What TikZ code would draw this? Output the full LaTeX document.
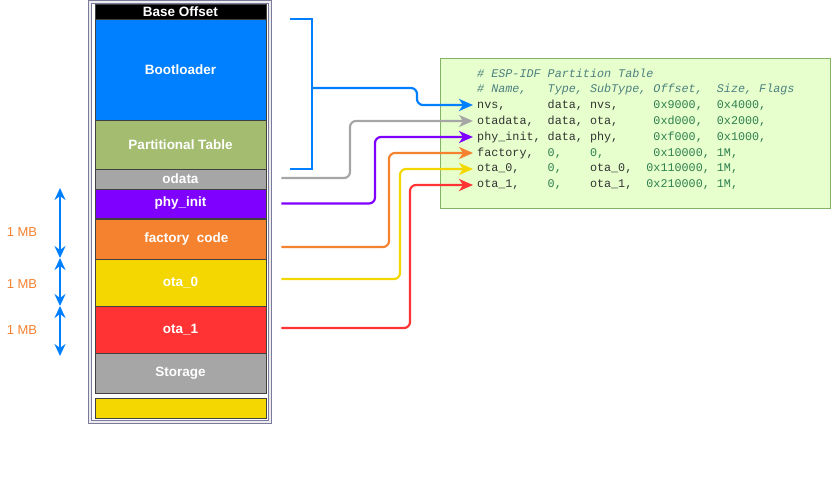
\documentclass[tikz,border=0pt]{standalone}
\usepackage{fontspec}
\setmainfont{Liberation Sans}
\setmonofont{Liberation Mono}
\usepackage{tikz}
\usetikzlibrary{arrows.meta,positioning}

\definecolor{bootc}{HTML}{007FFF}
\definecolor{ptabc}{HTML}{A3BC70}
\definecolor{greyc}{HTML}{A6A6A6}
\definecolor{phyc}{HTML}{7F00FF}
\definecolor{factc}{HTML}{F5822F}
\definecolor{otaac}{HTML}{F4D700}
\definecolor{otabc}{HTML}{FF3333}
\definecolor{tabfill}{HTML}{E6FFCC}
\definecolor{tabline}{HTML}{82B366}
\definecolor{cmtc}{HTML}{4D8080}
\definecolor{namec}{HTML}{333333}
\definecolor{numc}{HTML}{2F7F4F}
\definecolor{framec}{HTML}{7A7A9A}

\newcommand{\ptcmt}[1]{\textcolor{cmtc}{\itshape #1}}
\newcommand{\ptname}[1]{\textcolor{namec}{#1}}
\newcommand{\ptnum}[1]{\textcolor{numc}{#1}}

\begin{document}
\begin{tikzpicture}[x=1pt, y=-1pt,
    blk/.style={draw=black!75, line width=0.7pt, minimum width=171pt, inner sep=0pt,
      text=white, font=\fontsize{13.5}{15}\selectfont\bfseries},
    row/.style={anchor=west, inner xsep=4pt, inner ysep=0pt,
      font=\ttfamily\fontsize{11.75}{14}\selectfont},
    conn/.style={line width=2.2pt, rounded corners=6pt, -{Stealth[length=14pt,width=12pt,inset=4pt]}},
    size/.style={line width=1.8pt, bootc, {Stealth[length=12pt,width=11pt,inset=4pt]}-{Stealth[length=12pt,width=11pt,inset=4pt]}},
    mb/.style={text=factc, font=\fontsize{13}{15}\selectfont}]
        \useasboundingbox (0,0) rectangle (831,482);

        % flash frame (left)
        \draw[framec, line width=1.2pt, double=framec!15, double distance=1.6pt] (90,2) rectangle (270,422);

        % partitions
        \node[blk, fill=black, minimum height=15pt] (base) at (180.5,11.5) {Base Offset};
        \node[blk, fill=bootc, minimum height=101pt] (boot) at (180.5,69.5) {Bootloader};
        \node[blk, fill=ptabc, minimum height=49pt, text=white] (ptab) at (180.5,144.5) {Partitional Table};
        \node[blk, fill=greyc, minimum height=20pt] (odata) at (180.5,179) {odata};
        \node[blk, fill=phyc, minimum height=29pt] (phy) at (180.5,203.5) {phy\_init};
        \node[blk, fill=factc, minimum height=40pt] (fact) at (180.5,239) {\hspace*{12pt}factory\ \ code};
        \node[blk, fill=otaac, minimum height=47pt] (otaa) at (180.5,282.5) {ota\_0};
        \node[blk, fill=otabc, minimum height=47pt] (otab) at (180.5,329.5) {ota\_1};
        \node[blk, fill=greyc, minimum height=40pt] (store) at (180.5,373.5) {Storage};
        \node[blk, fill=otaac, minimum height=20pt] (spare) at (180.5,408) {};

        % sizes (left)
        \coordinate (sa) at (60,188);
        \coordinate (sb) at (60,258);
        \coordinate (sc) at (60,306);
        \coordinate (sd) at (60,356);
        \draw[size] (sa) -- (sb);
        \draw[size] (sb) -- (sc);
        \draw[size] (sc) -- (sd);
        \node[mb] (mba) at (22,232) {1 MB};
        \node[mb] (mbb) at (22,284) {1 MB};
        \node[mb] (mbc) at (22,330) {1 MB};

        % partition table (right)
        \node[draw=tabline, fill=tabfill, line width=0.8pt, minimum width=390pt, minimum height=150pt] (table) at (635,133) {};
        \node[row] (hdra) at (473,73) {\ptcmt{\#~ESP-IDF~Partition~Table}};
        \node[row] (hdrb) at (473,89) {\ptcmt{\#~Name,~~~Type,~SubType,~Offset,~~Size,~Flags}};
        \node[row] (nvs) at (473,105) {\ptname{nvs,~~~~~~data,~nvs,~~~~~}\ptnum{0x9000,~~0x4000,}};
        \node[row] (otad) at (473,121) {\ptname{otadata,~~data,~ota,~~~~~}\ptnum{0xd000,~~0x2000,}};
        \node[row] (phyi) at (473,137) {\ptname{phy\_init,~data,~phy,~~~~~}\ptnum{0xf000,~~0x1000,}};
        \node[row] (facty) at (473,153) {\ptname{factory,~~}\ptnum{0,~~~~0,~~~~~~~0x10000,~1M,}};
        \node[row] (otaz) at (473,169) {\ptname{ota\_0,~~~~}\ptnum{0,~~~~}\ptname{ota\_0,~~}\ptnum{0x110000,~1M,}};
        \node[row] (otao) at (473,185) {\ptname{ota\_1,~~~~}\ptnum{0,~~~~}\ptname{ota\_1,~~}\ptnum{0x210000,~1M,}};

        % bracket over bootloader + table
        \coordinate (brk) at (312,88);
        \draw[bootc, line width=2.2pt] ([xshift=24pt]boot.north east) -| ([xshift=46pt]ptab.south east) -- ([xshift=24pt]ptab.south east);

        % links
        \draw[conn, bootc] (brk) -| ([xshift=-56pt]nvs.west) -- (nvs.west);
        \draw[conn, greyc] ([xshift=15pt,yshift=1pt]odata.east) -| ([xshift=-123pt]otad.west) -- (otad.west);
        \draw[conn, phyc] ([xshift=15pt]phy.east) -| ([xshift=-98pt]phyi.west) -- (phyi.west);
        \draw[conn, factc] ([xshift=15pt,yshift=-8pt]fact.east) -| ([xshift=-84pt]facty.west) -- (facty.west);
        \draw[conn, otaac] ([xshift=15pt,yshift=3.5pt]otaa.east) -| ([xshift=-73pt]otaz.west) -- (otaz.west);
        \draw[conn, otabc] ([xshift=15pt,yshift=1.5pt]otab.east) -| ([xshift=-63pt]otao.west) -- (otao.west);

    \end{tikzpicture}
\end{document}
